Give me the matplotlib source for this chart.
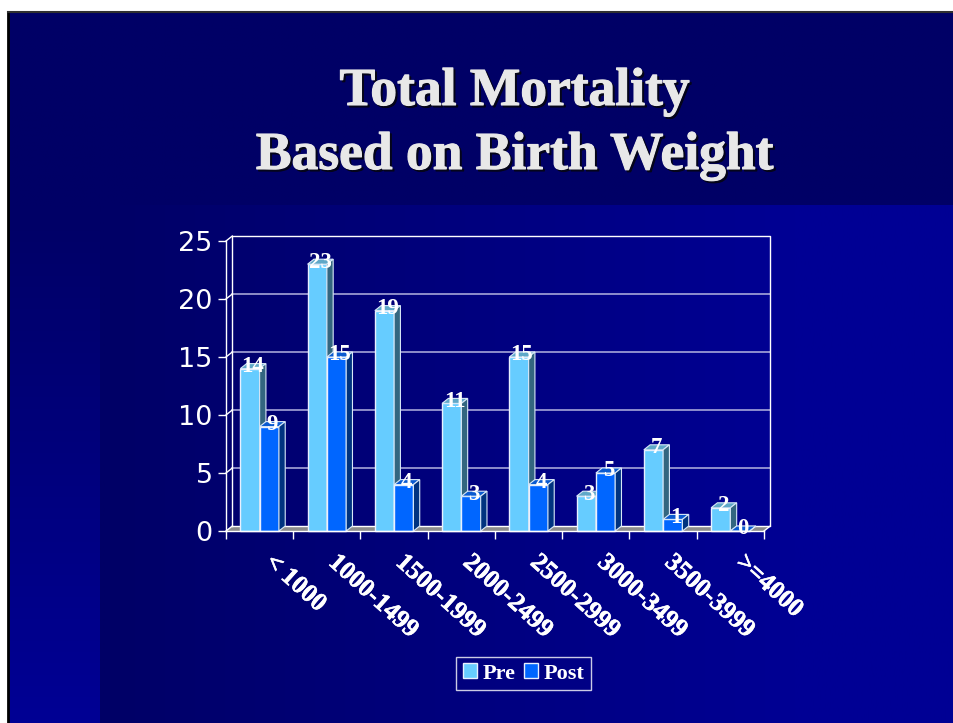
import numpy as np
import matplotlib
matplotlib.use('Agg')
import matplotlib.pyplot as plt
import matplotlib.patheffects as pe
from matplotlib.patches import Polygon, Patch

categories = ['< 1000', '1000-1499', '1500-1999', '2000-2499', '2500-2999', '3000-3499', '3500-3999', '>=4000']
pre = [14, 23, 19, 11, 15, 3, 7, 2]
post = [9, 15, 4, 3, 4, 5, 1, 0]
yticks = [0, 5, 10, 15, 20, 25]

W, H = 954, 723
PRE_FRONT, PRE_TOP, PRE_SIDE = '#66ccff', '#5fa8c8', '#336680'
POST_FRONT, POST_TOP, POST_SIDE = '#0066ff', '#0a5ad0', '#003380'
DARK, BLUE = np.array([0, 0, 102]), np.array([0, 0, 148])
SERIF = 'Liberation Serif'

plt.rcParams['font.family'] = SERIF
fig = plt.figure(figsize=(W / 100, H / 100), dpi=100, facecolor='white')

# slide background, three gradient panels
bg = fig.add_axes([0, 0, 1, 1], zorder=0)
bg.axis('off')
def grad(x0, x1, y0, y1, c0, c1, horiz):
    t = np.linspace(0, 1, 64)
    t = t[None, :] if horiz else t[:, None]
    img = (c0 + (c1 - c0) * t[..., None]) / 255
    bg.imshow(img, extent=[x0, x1, y1, y0], aspect='auto', interpolation='bilinear')
grad(9, W, 13, 205, DARK, DARK, True)
grad(9, 100, 205, H, DARK, BLUE, False)
grad(100, 800, 205, H, DARK, BLUE, True)
grad(800, W, 205, H, BLUE, BLUE, True)
bg.set_xlim(0, W)
bg.set_ylim(H, 0)
bg.plot([8, 8], [12, H], color='black', lw=2)
bg.plot([8, W], [12, 12], color='#303030', lw=1.5)

# title with its drop shadow
for line, yy in [('Total Mortality', 88), ('Based on Birth Weight', 152)]:
    bg.text(516.5, yy + 6, line, color='#05051a', fontsize=38.5, fontweight='bold', ha='center', va='center',
            path_effects=[pe.withStroke(linewidth=0.8, foreground='#05051a')])
    bg.text(514.5, yy + 4, line, color='#e8e8e8', fontsize=38.5, fontweight='bold', ha='center', va='center',
            path_effects=[pe.withStroke(linewidth=0.8, foreground='#e8e8e8')])

# axes = front plane of the 3d box
x0, x1, ytop, ybot = 226, 764, 241, 531
ax = fig.add_axes([x0 / W, 1 - ybot / H, (x1 - x0) / W, (ybot - ytop) / H], zorder=1)
ax.patch.set_alpha(0)
ax.set_xlim(0, 8)
ax.set_ylim(0, 25)
for s in ax.spines.values():
    s.set_visible(False)
dx = 6.3 / ((x1 - x0) / 8)
dy = 5 * 25 / (ybot - ytop)

# back wall, floor, grid
ax.add_patch(Polygon([(0, 0), (8, 0), (8 + dx, dy), (dx, dy)], fc='#8c8c8c', ec='none', clip_on=False, zorder=1))
for v in yticks[1:-1]:
    ax.plot([dx, 8 + dx], [v + dy, v + dy], color='#b4b4e0', lw=1.1, clip_on=False, zorder=1)
ax.plot([dx, 8 + dx, 8 + dx, dx, dx], [dy, dy, 25 + dy, 25 + dy, dy], color='white', lw=1, clip_on=False, zorder=1)
ax.plot([8, 8 + dx], [0, dy], color='white', lw=1, clip_on=False, zorder=1)
for v in yticks:
    ax.plot([0, dx], [v, v + dy], color='white', lw=1, clip_on=False, zorder=1)
ax.plot([0, 0], [0, 25], color='white', lw=1, clip_on=False, zorder=2)
ax.plot([0, 8], [0, 0], color='white', lw=1, clip_on=False, zorder=6)

ax.set_yticks(yticks)
ax.set_xticks(range(9))
ax.set_xticklabels([])
ax.tick_params(axis='y', colors='white', length=6, width=1, pad=3.5, labelsize=19.5, labelfontfamily='DejaVu Sans')
ax.tick_params(axis='x', colors='white', length=6, width=1)

w = 0.287
xs = np.arange(len(categories)) + 0.5
def bars3d(left, vals, front, top, side, z):
    bars = ax.bar(left, vals, w, align='edge', color=front, edgecolor='#e8f0ff', linewidth=1, zorder=z, clip_on=False)
    for xl, v in zip(left, vals):
        ax.add_patch(Polygon([(xl, v), (xl + w, v), (xl + w + dx, v + dy), (xl + dx, v + dy)], fc=top, ec='#d8e8f8', lw=0.8, zorder=z, clip_on=False))
        ax.add_patch(Polygon([(xl + w, 0), (xl + w + dx, dy), (xl + w + dx, v + dy), (xl + w, v)], fc=side, ec='#d8e8f8', lw=0.8, zorder=z, clip_on=False))
    return bars
b_pre = bars3d(xs - w, pre, PRE_FRONT, PRE_TOP, PRE_SIDE, 3)
b_post = bars3d(xs, post, POST_FRONT, POST_TOP, POST_SIDE, 4)

for xc, a, b in zip(xs, pre, post):
    for xp, v in ((xc - w / 2, a), (xc + w / 2, b)):
        ax.annotate(str(v), (xp, v), xytext=(3, 2), textcoords='offset pixels', color='white', fontsize=16.5,
                    fontweight='bold', ha='center', va='center', zorder=8, annotation_clip=False)

for xc, lab in zip(xs, categories):
    off = 9 if lab[0] in '<>' else 5
    ax.annotate(lab, (xc, 0), xytext=(off, -28), textcoords='offset pixels', color='white', fontsize=18.5,
                fontweight='bold', rotation=-42, rotation_mode='anchor', ha='left', va='center', annotation_clip=False,
                path_effects=[pe.withStroke(linewidth=0.4, foreground='white')])

leg = fig.legend(handles=[Patch(fc=PRE_FRONT, ec='#e8f0ff', label='Pre'), Patch(fc=POST_FRONT, ec='#e8f0ff', label='Post')],
                 ncol=2, loc='center', bbox_to_anchor=(523.5 / W, 1 - 673.5 / H), frameon=True, fancybox=False,
                 facecolor='none', edgecolor='white', labelcolor='white', prop={'size': 16, 'weight': 'bold', 'family': SERIF},
                 handlelength=0.65, handleheight=0.65, handletextpad=0.23, columnspacing=0.4, borderpad=0.3, borderaxespad=0)
leg.get_frame().set_linewidth(1)

fig.savefig('out.png', dpi=100, facecolor='white')
